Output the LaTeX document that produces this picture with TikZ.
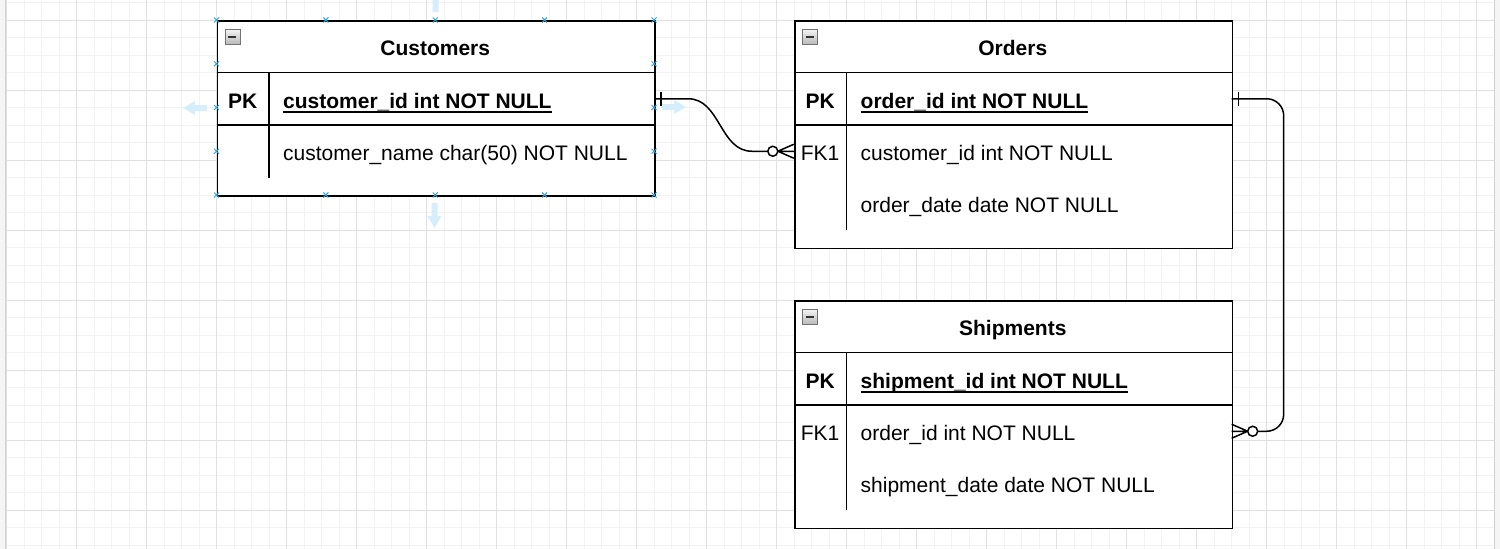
\documentclass[tikz,border=0pt]{standalone}
\usepackage{fontspec}
\setmainfont{Liberation Sans}
\usetikzlibrary{calc}
\definecolor{minorg}{HTML}{F2F2F2}
\definecolor{majorg}{HTML}{E0E0E0}
\definecolor{hoverblue}{HTML}{D6EEFB}
\definecolor{markblue}{HTML}{2BA3DC}
\tikzset{
  tbl/.style={draw=black, line width=1.8pt, fill=white, rectangle, inner sep=0pt, minimum width=437.5pt},
  tline/.style={draw=black, line width=1.8pt},
  rowarea/.style={rectangle, inner sep=0pt, minimum width=437.5pt, minimum height=52.5pt},
  bfont/.style={inner sep=0pt, font=\fontsize{21}{25}\selectfont\bfseries},
  rfont/.style={inner sep=0pt, font=\fontsize{21}{25}\selectfont},
  collapsebox/.style={rectangle, inner sep=0pt, minimum size=15pt, draw=black!55, line width=1pt, top color=gray!10, bottom color=gray!55},
  edge/.style={draw=black, line width=1.5pt},
  hover/.style={fill=hoverblue},
  selmark/.style={draw=markblue, line width=1pt},
}
\newcommand\erdtab[6]{% #1 name, #2 left, #3 top, #4 bottom, #5 title, #6 pk field
  \node[tbl, anchor=north west, minimum height={#4-#3}] (#1) at (#2,#3) {};
  \draw[tline] ({#2},{#3+52.5}) -- ({#2+437.5},{#3+52.5});
  \draw[tline] ({#2},{#3+105}) -- ({#2+437.5},{#3+105});
  \draw[tline] ({#2+52.5},{#3+52.5}) -- ({#2+52.5},{#4-17.5});
  \node[collapsebox, anchor=north west] (#1-icon) at ({#2+8},{#3+9}) {};
  \draw[line width=2pt, black!80] ({#2+11.5},{#3+16.5}) -- ({#2+19.5},{#3+16.5});
  \node[bfont, anchor=base] (#1-title) at ({#2+218.75},{#3+35.5}) {#5};
  \node[rowarea] (#1pk) at ({#2+218.75},{#3+78.75}) {};
  \node[bfont, anchor=base] (#1-pklab) at ({#2+26.25},{#3+88}) {PK};
  \node[bfont, anchor=base west] (#1-pkfld) at ({#2+66.5},{#3+88}) {#6};
  \draw[line width=2pt] ([yshift=-3.5pt]#1-pkfld.base west) -- ([yshift=-3.5pt]#1-pkfld.base east);
}
\newcommand\selcross[2]{%
  \draw[selmark] ({#1-2.5},{#2-2.5}) -- ({#1+2.5},{#2+2.5}) ({#1-2.5},{#2+2.5}) -- ({#1+2.5},{#2-2.5});
}
\begin{document}
\begin{tikzpicture}[x=1pt,y=-1pt]
\useasboundingbox (0,0) rectangle (1500,549);
\clip (0,0) rectangle (1500,549);
\fill[white] (0,0) rectangle (1500,549);
% grid
\foreach \i in {0,...,85} \draw[minorg, line width=0.8pt] ({6.7+17.5*\i},0) -- ({6.7+17.5*\i},549);
\foreach \j in {0,...,31} \draw[minorg, line width=0.8pt] (6,{2.5+17.5*\j}) -- (1495,{2.5+17.5*\j});
\foreach \i in {0,...,21} \draw[majorg, line width=0.8pt] ({6.7+70*\i},0) -- ({6.7+70*\i},549);
\foreach \j in {0,...,7} \draw[majorg, line width=0.8pt] (6,{20+70*\j}) -- (1495,{20+70*\j});
% page edges
\fill[black!4] (0,0) rectangle (5,549);
\draw[black!18, line width=1.2pt] (5.5,0) -- (5.5,549);
\fill[black!4] (1495,0) rectangle (1500,549);
\draw[black!18, line width=1.2pt] (1494.5,0) -- (1494.5,549);

% hover arrows around Customers
\fill[hover] (183,108) -- (195,101) -- (195,105) -- (207,105) -- (207,111) -- (195,111) -- (195,115) -- cycle;
\fill[hover] (686,107) -- (674,100) -- (674,104) -- (662,104) -- (662,110) -- (674,110) -- (674,114) -- cycle;
\fill[hover] (434.5,228) -- (427.5,216) -- (431.5,216) -- (431.5,203) -- (437.5,203) -- (437.5,216) -- (441.5,216) -- cycle;
\fill[hover] (435.5,-13) -- (428.5,0) -- (432.5,0) -- (432.5,12) -- (438.5,12) -- (438.5,0) -- (442.5,0) -- cycle;

% tables
\erdtab{cust}{216.5}{20}{195}{Customers}{customer\_id int NOT NULL}
\node[rowarea] (custr2) at (435.25,151.25) {};
\node[rfont, anchor=base west] (cust-f2) at (283,160) {customer\_name char(50) NOT NULL};

\erdtab{ord}{794}{20}{247.5}{Orders}{order\_id int NOT NULL}
\node[rowarea] (ordfk) at (1012.75,151.25) {};
\node[rfont, anchor=base] (ord-fklab) at (820,160) {FK1};
\node[rfont, anchor=base west] (ord-f2) at (860.5,160) {customer\_id int NOT NULL};
\node[rfont, anchor=base west] (ord-f3) at (860.5,212) {order\_date date NOT NULL};

\erdtab{ship}{794}{300}{527.5}{Shipments}{shipment\_id int NOT NULL}
\node[rowarea] (shipfk) at (1012.75,431.25) {};
\node[rfont, anchor=base] (ship-fklab) at (820,440) {FK1};
\node[rfont, anchor=base west] (ship-f2) at (860.5,440) {order\_id int NOT NULL};
\node[rfont, anchor=base west] (ship-f3) at (860.5,492) {shipment\_date date NOT NULL};

% selection markers on Customers
\foreach \x in {216.5,325.9,435.25,544.6,654} {\selcross{\x}{20}\selcross{\x}{195}}
\foreach \y in {63.75,107.5,151.25} {\selcross{216.5}{\y}\selcross{654}{\y}}

% connector Customers -> Orders
\draw[edge] (custpk.east) -- ($(custpk.east)+(34,0)$)
  .. controls ($(custpk.east)+(66,0)$) and ($(ordfk.west)+(-74,0)$) .. ($(ordfk.west)+(-42,0)$)
  -- ($(ordfk.west)+(-26,0)$);
\draw[edge] ($(custpk.east)+(7,-7)$) -- ($(custpk.east)+(7,7)$);
\draw[edge, fill=white] ($(ordfk.west)+(-21,0)$) circle (5pt);
\draw[edge] ($(ordfk.west)+(-16,0)$) -- ($(ordfk.west)+(0,-7)$)
            ($(ordfk.west)+(-16,0)$) -- (ordfk.west)
            ($(ordfk.west)+(-16,0)$) -- ($(ordfk.west)+(0,7)$);

% connector Orders -> Shipments
\draw[edge, rounded corners=17pt] (ordpk.east) -- ($(ordpk.east)+(52,0)$) -- ($(shipfk.east)+(52,0)$) -- ($(shipfk.east)+(26,0)$);
\draw[edge] ($(ordpk.east)+(7,-7)$) -- ($(ordpk.east)+(7,7)$);
\draw[edge, fill=white] ($(shipfk.east)+(21,0)$) circle (5pt);
\draw[edge] ($(shipfk.east)+(16,0)$) -- ($(shipfk.east)+(0,-7)$)
            ($(shipfk.east)+(16,0)$) -- (shipfk.east)
            ($(shipfk.east)+(16,0)$) -- ($(shipfk.east)+(0,7)$);
\end{tikzpicture}
\end{document}
